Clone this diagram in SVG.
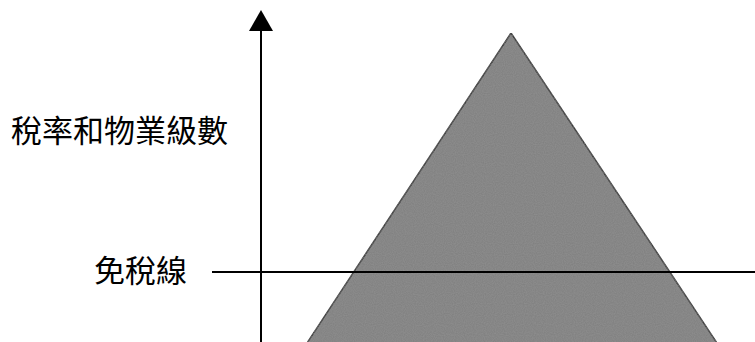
<svg xmlns="http://www.w3.org/2000/svg" width="755" height="342" viewBox="0 0 755 342">
<style>
.lbl{font-family:"Noto Sans CJK TC","Noto Sans CJK SC",sans-serif;font-size:31px;fill:#000}
.ln{stroke:#000;stroke-width:2;fill:none}
</style>
<defs>
<filter id="grain" x="0" y="0" width="100%" height="100%">
<feTurbulence type="fractalNoise" baseFrequency="0.9" numOctaves="1" seed="3" result="n"/>
<feColorMatrix in="n" type="matrix" values="0 0 0 0 0.35  0 0 0 0 0.35  0 0 0 0 0.35  0 0 0 0.5 0" result="g"/>
<feComposite in="g" in2="SourceGraphic" operator="in" result="gi"/>
<feMerge><feMergeNode in="SourceGraphic"/><feMergeNode in="gi"/></feMerge>
</filter>
</defs>
<rect width="755" height="342" fill="#fff"/>
<g id="pyramid">
<polygon points="511,33 717,343 307,343" fill="#7e7e7e" stroke="#111" stroke-width="1.5" filter="url(#grain)"/>
</g>
<g id="connectors">
<line class="ln" x1="261" y1="342" x2="261" y2="28"/>
<polygon points="261,10 249,31 273,31" fill="#000"/>
<line class="ln" x1="212" y1="272" x2="755" y2="272"/>
</g>
<g id="label-tax">
<text class="lbl" x="11" y="142">稅率和物業級數</text>
</g>
<g id="label-exempt">
<text class="lbl" x="94" y="282">免稅線</text>
</g>
</svg>
